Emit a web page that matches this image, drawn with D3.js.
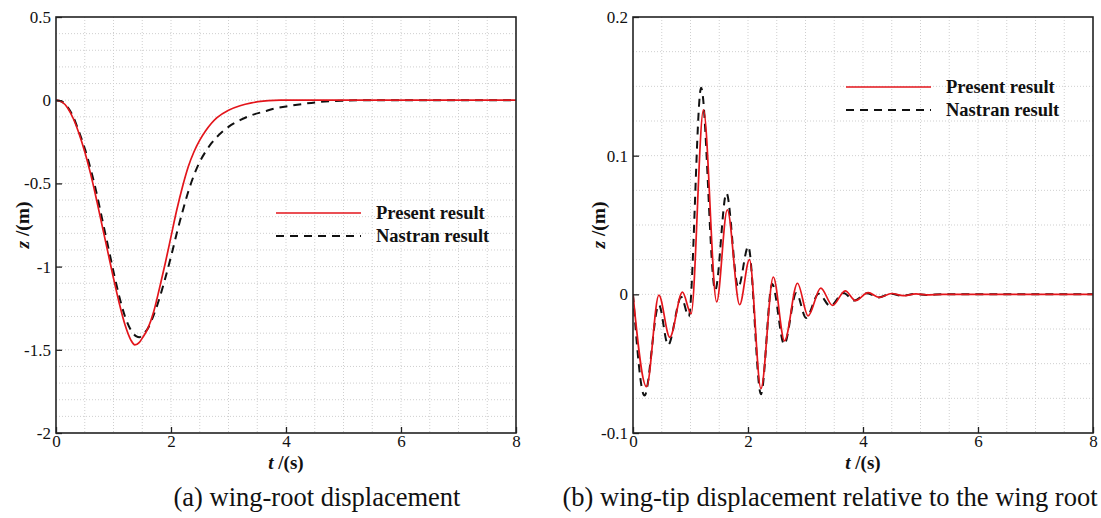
<!DOCTYPE html>
<html>
<head>
<meta charset="utf-8">
<script src="https://cdn.jsdelivr.net/npm/d3@7"></script>
<style>
  body { margin: 0; background: #fff; }
  svg { display: block; }
  text { font-family: "Liberation Serif", "Times New Roman", serif; fill: #111; }
</style>
</head>
<body>
<svg id="chart" width="1101" height="518"></svg>
<script>
// ---- (a) wing-root displacement: [t (s), z (m)] ----
const rootPresent = [
  [0, 0], [0.1, -0.01], [0.2, -0.045], [0.3, -0.11], [0.4, -0.2], [0.5, -0.31],
  [0.6, -0.44], [0.7, -0.59], [0.8, -0.75], [0.9, -0.91], [1.0, -1.07],
  [1.1, -1.22], [1.2, -1.35], [1.3, -1.44], [1.37, -1.47], [1.45, -1.455],
  [1.5, -1.43], [1.6, -1.37], [1.7, -1.27], [1.8, -1.13], [1.9, -0.98],
  [2.0, -0.82], [2.1, -0.66], [2.2, -0.52], [2.3, -0.40], [2.4, -0.31],
  [2.5, -0.24], [2.6, -0.185], [2.7, -0.14], [2.8, -0.105], [3.0, -0.06],
  [3.2, -0.033], [3.4, -0.016], [3.6, -0.006], [3.8, -0.001], [3.9, 0], [8, 0]
];
const rootNastran = [
  [0, 0], [0.1, -0.008], [0.2, -0.04], [0.3, -0.1], [0.4, -0.19], [0.5, -0.29],
  [0.6, -0.41], [0.7, -0.55], [0.8, -0.71], [0.9, -0.87], [1.0, -1.03],
  [1.1, -1.18], [1.2, -1.30], [1.3, -1.38], [1.4, -1.42], [1.45, -1.425],
  [1.5, -1.41], [1.6, -1.37], [1.7, -1.29], [1.8, -1.19], [1.9, -1.07],
  [2.0, -0.94], [2.1, -0.80], [2.2, -0.67], [2.3, -0.55], [2.4, -0.45],
  [2.5, -0.37], [2.6, -0.31], [2.7, -0.26], [2.8, -0.22], [3.0, -0.16],
  [3.2, -0.12], [3.4, -0.09], [3.6, -0.07], [3.8, -0.05], [4.0, -0.038],
  [4.3, -0.022], [4.6, -0.01], [5.0, -0.003], [5.5, 0], [8, 0]
];

// ---- (b) wing-tip displacement relative to the wing root: [t (s), z (m)] ----
const tipPresent = [
  [0, 0], [0.235, -0.0666], [0.45, -0.0005], [0.64, -0.031], [0.86, 0.0016],
  [1.01, -0.014], [1.225, 0.133], [1.455, -0.0055], [1.64, 0.061],
  [1.855, -0.0075], [2.025, 0.025], [2.225, -0.068], [2.44, 0.0125],
  [2.635, -0.0335], [2.86, 0.008], [3.045, -0.0155], [3.265, 0.0045],
  [3.47, -0.008], [3.69, 0.0025], [3.87, -0.0045], [4.09, 0.0012],
  [4.28, -0.0022], [4.5, 0.0006], [4.7, -0.001], [4.92, 0.0003],
  [5.1, -0.0004], [5.4, 0], [8, 0]
];
const tipNastran = [
  [0, 0], [0.2, -0.073], [0.45, -0.0075], [0.61, -0.0365], [0.84, -0.002],
  [0.97, -0.016], [1.185, 0.149], [1.43, 0.003], [1.625, 0.073],
  [1.83, 0.005], [2.005, 0.0345], [2.225, -0.072], [2.42, 0.0075],
  [2.63, -0.036], [2.84, 0.001], [3.01, -0.017], [3.23, 0.0005],
  [3.43, -0.0085], [3.66, 0.001], [3.85, -0.0045], [4.07, 0.0008],
  [4.27, -0.0022], [4.48, 0.0004], [4.68, -0.001], [4.9, 0.0002],
  [5.1, -0.0004], [5.4, 0], [8, 0]
];

// ---- axis ticks ----
const tTicks = [0, 2, 4, 6, 8];
const tMinor = [0, 0.5, 1, 1.5, 2, 2.5, 3, 3.5, 4, 4.5, 5, 5.5, 6, 6.5, 7, 7.5, 8];
const rootTicks = [-2, -1.5, -1, -0.5, 0, 0.5];
const rootMinor = d3.range(-20, 6).map(i => i / 10);
const tipTicks = [-0.1, 0, 0.1, 0.2];
const tipMinor = d3.range(-4, 9).map(i => i * 0.025);

const seriesNames = ["Present result", "Nastran result"];
const captions = ["(a) wing-root displacement", "(b) wing-tip displacement relative to the wing root"];

const SERIF = '"Liberation Serif", "Times New Roman", serif';
const svg = d3.select("#chart");

function panel(opt) {
  const { left, right, top, bottom } = opt.box;
  const x = d3.scaleLinear().domain([0, 8]).range([left, right]);
  const y = d3.scaleLinear().domain(opt.yDomain).range([bottom, top]);
  const g = svg.append("g");

  // dotted grid at every minor step
  g.append("g").selectAll("line").data(tMinor.slice(1, -1)).join("line")
    .attr("x1", d => x(d)).attr("x2", d => x(d)).attr("y1", top).attr("y2", bottom)
    .attr("stroke", "#cfcfcf").attr("stroke-width", 1).attr("stroke-dasharray", "1,2");
  g.append("g").selectAll("line").data(opt.yMinor.slice(1, -1)).join("line")
    .attr("x1", left).attr("x2", right).attr("y1", d => y(d)).attr("y2", d => y(d))
    .attr("stroke", "#cfcfcf").attr("stroke-width", 1).attr("stroke-dasharray", "1,2");

  // curves
  const clipId = "clip" + opt.id;
  svg.append("clipPath").attr("id", clipId).append("rect")
    .attr("x", left).attr("y", top).attr("width", right - left).attr("height", bottom - top);
  const line = d3.line().x(d => x(d[0])).y(d => y(d[1])).curve(d3.curveMonotoneX);
  const lines = g.append("g").attr("clip-path", `url(#${clipId})`);
  lines.append("path").datum(opt.nastran).attr("d", line)
    .attr("fill", "none").attr("stroke", "#111").attr("stroke-width", 2)
    .attr("stroke-dasharray", "8,6");
  lines.append("path").datum(opt.present).attr("d", line)
    .attr("fill", "none").attr("stroke", "#e3151b").attr("stroke-width", 1.7);

  // axes with inward ticks
  const fmt = d => String(d);
  const ax = g.append("g").attr("transform", `translate(0,${bottom})`);
  ax.call(d3.axisBottom(x).tickValues(tMinor).tickSize(-3).tickFormat(""));
  ax.call(d3.axisBottom(x).tickValues(tTicks).tickSize(-6).tickPadding(2).tickFormat(fmt));
  const ay = g.append("g").attr("transform", `translate(${left},0)`);
  ay.call(d3.axisLeft(y).tickValues(opt.yMinor).tickSize(-3).tickFormat(""));
  ay.call(d3.axisLeft(y).tickValues(opt.yTicks).tickSize(-6).tickPadding(5).tickFormat(fmt));
  g.selectAll(".domain").remove();
  g.selectAll("g.tick line").attr("stroke", "#222").attr("stroke-width", 1.3);
  g.selectAll("g.tick text").attr("font-size", 17).attr("fill", "#111")
    .attr("font-family", SERIF).style("font-family", SERIF);

  // frame
  g.append("rect").attr("x", left).attr("y", top)
    .attr("width", right - left).attr("height", bottom - top)
    .attr("fill", "none").attr("stroke", "#222").attr("stroke-width", 1.6);

  // axis titles
  const xt = g.append("text").attr("x", (left + right) / 2).attr("y", bottom + 36)
    .attr("text-anchor", "middle").attr("font-size", 19).attr("font-weight", "bold");
  xt.append("tspan").attr("font-style", "italic").text("t");
  xt.append("tspan").text(" /(s)");
  const yt = g.append("text")
    .attr("transform", `translate(${opt.yTitleX},${(top + bottom) / 2}) rotate(-90)`)
    .attr("text-anchor", "middle").attr("font-size", 19.5).attr("font-weight", "bold");
  yt.append("tspan").attr("font-style", "italic").text("z");
  yt.append("tspan").text(" /(m)");

  // legend
  const L = opt.legend;
  const lg = g.append("g");
  lg.append("line").attr("x1", L.x).attr("x2", L.x + 85).attr("y1", L.y).attr("y2", L.y)
    .attr("stroke", "#e3151b").attr("stroke-width", 1.7);
  lg.append("line").attr("x1", L.x).attr("x2", L.x + 85).attr("y1", L.y + 23).attr("y2", L.y + 23)
    .attr("stroke", "#111").attr("stroke-width", 2).attr("stroke-dasharray", "8,6");
  lg.selectAll("text").data(seriesNames).join("text")
    .attr("x", L.x + 100).attr("y", (d, i) => L.y + 6 + i * 23)
    .attr("font-size", 18.5).attr("font-weight", "bold").text(d => d);

  // caption
  g.append("text").attr("x", opt.captionX).attr("y", 506)
    .attr("text-anchor", "middle").attr("font-size", 26.5).text(opt.caption);
}

panel({
  id: "a", box: { left: 56, right: 516, top: 17, bottom: 433 },
  yDomain: [-2, 0.5], yTicks: rootTicks, yMinor: rootMinor,
  present: rootPresent, nastran: rootNastran,
  yTitleX: 29, legend: { x: 276, y: 213 },
  caption: captions[0], captionX: 317
});
panel({
  id: "b", box: { left: 633, right: 1093, top: 17, bottom: 433 },
  yDomain: [-0.1, 0.2], yTicks: tipTicks, yMinor: tipMinor,
  present: tipPresent, nastran: tipNastran,
  yTitleX: 605, legend: { x: 846, y: 87 },
  caption: captions[1], captionX: 830
});
</script>
</body>
</html>
